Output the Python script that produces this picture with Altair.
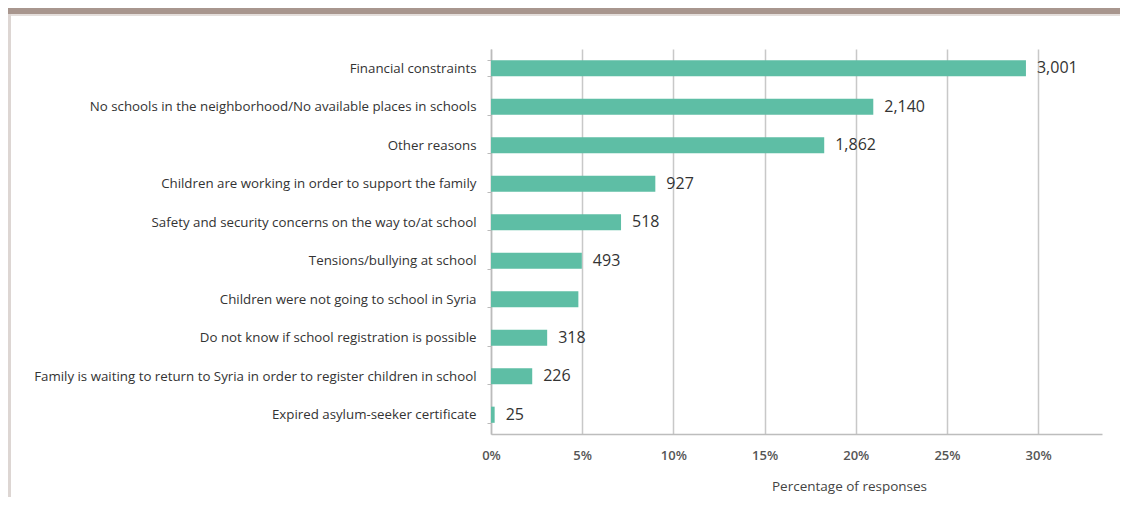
import altair as alt
import pandas as pd

categories = [
    "Financial constraints",
    "No schools in the neighborhood/No available places in schools",
    "Other reasons",
    "Children are working in order to support the family",
    "Safety and security concerns on the way to/at school",
    "Tensions/bullying at school",
    "Children were not going to school in Syria",
    "Do not know if school registration is possible",
    "Family is waiting to return to Syria in order to register children in school",
    "Expired asylum-seeker certificate",
]
percentages = [29.33, 20.96, 18.27, 9.01, 7.13, 4.98, 4.79, 3.08, 2.26, 0.2]
count_labels = ["3,001", "2,140", "1,862", "927", "518", "493", "", "318", "226", "25"]
x_ticks = [0, 5, 10, 15, 20, 25, 30]

df = pd.DataFrame({"reason": categories, "pct": percentages, "label": count_labels})
one = pd.DataFrame({"a": [0]})

W, H = 611, 385
PL, PT = 483, 41
PR = 1112 - PL - W
PB = 489 - PT - H
FONT = "Open Sans"

x_enc = alt.X(
    "pct:Q",
    scale=alt.Scale(domain=[0, 33.5], nice=False, zero=True),
    axis=alt.Axis(
        values=x_ticks,
        labelExpr="datum.value + '%'",
        labelFlush=False,
        title="Percentage of responses",
        grid=True,
        gridColor="#c8c8c8",
        gridWidth=1.5,
        domainColor="#bdbdbd",
        domainWidth=1.5,
        tickSize=0,
        labelPadding=15,
        labelFont=FONT,
        labelFontSize=13,
        labelFontWeight=600,
        labelColor="#555555",
        titleFont=FONT,
        titleFontSize=13.5,
        titleFontWeight="normal",
        titleColor="#444444",
        titleX=358,
        titleY=52,
        titleAlign="center",
        titleBaseline="middle",
    ),
)
y_enc = alt.Y(
    "reason:N",
    sort=categories,
    scale=alt.Scale(paddingInner=0.58, paddingOuter=0.29),
    axis=alt.Axis(
        title=None,
        tickBand="extent",
        tickSize=4,
        tickColor="#bbbbbb",
        domainColor="#bbbbbb",
        domainWidth=1.5,
        labelPadding=11,
        labelFont=FONT,
        labelFontSize=13.3,
        labelColor="#333333",
        labelLimit=600,
        grid=False,
    ),
)

banner = alt.Chart(one).mark_rect(color="#a8968e").encode(
    x=alt.value(-PL), x2=alt.value(W + PR), y=alt.value(-PT), y2=alt.value(-PT + 6)
)
banner_line = alt.Chart(one).mark_rect(color="#e4dedb").encode(
    x=alt.value(-PL), x2=alt.value(W + PR), y=alt.value(-PT + 6), y2=alt.value(-PT + 8)
)
strip = alt.Chart(one).mark_rect(color="#ddd6d3").encode(
    x=alt.value(-PL), x2=alt.value(-PL + 3), y=alt.value(-PT + 6), y2=alt.value(H + PB)
)

bars = alt.Chart(df).mark_bar(color="#5ebea5").encode(x=x_enc, y=y_enc)
texts = alt.Chart(df).mark_text(
    align="left", baseline="middle", dx=11, fontSize=16, font=FONT, color="#333333"
).encode(x="pct:Q", y=alt.Y("reason:N", sort=categories), text="label:N")

chart = (
    alt.layer(banner, banner_line, strip, bars, texts)
    .properties(
        width=W,
        height=H,
        autosize=alt.AutoSizeParams(type="none"),
        padding={"left": PL, "top": PT, "right": PR, "bottom": PB},
        background="white",
    )
    .configure_view(strokeWidth=0)
)

chart.save("out.html", embed_options={"renderer": "svg", "actions": False})
